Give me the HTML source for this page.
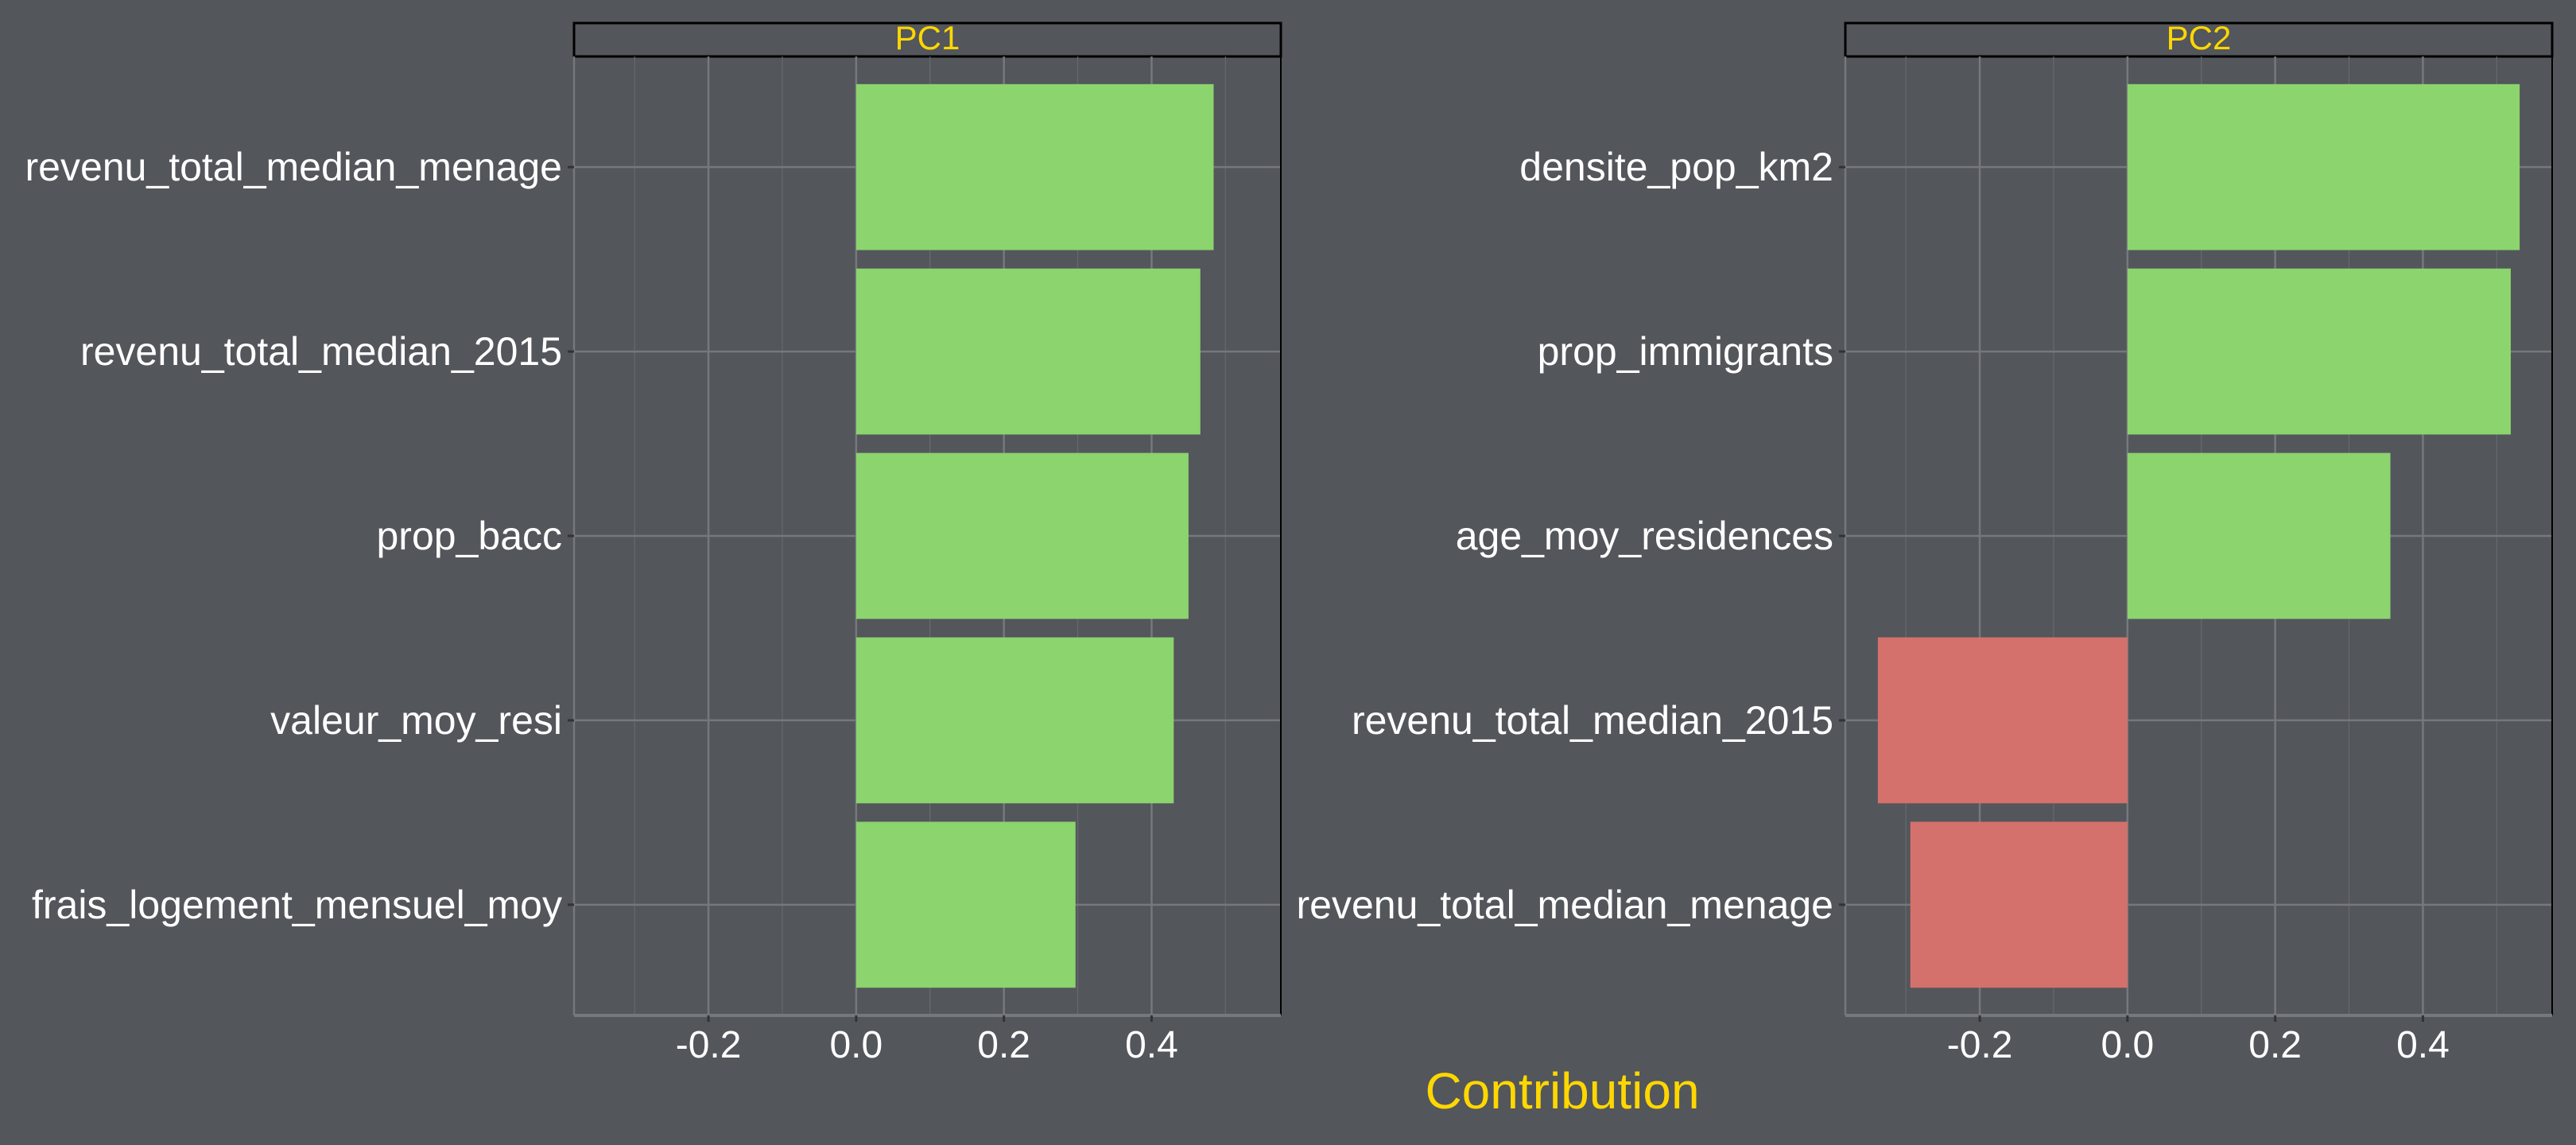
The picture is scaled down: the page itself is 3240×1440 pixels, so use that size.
<!DOCTYPE html>
<html><head><meta charset="utf-8"><style>
html,body{margin:0;padding:0;background:#53565b;}
svg{display:block;font-family:"Liberation Sans",Arial,sans-serif;}
</style></head><body>
<svg id="chart" width="3240" height="1440" viewBox="0 0 3240 1440" xmlns="http://www.w3.org/2000/svg">
<rect x="0" y="0" width="3240" height="1440" fill="#53565b"/>
<g id="root"></g>
<text x="1965" y="1394" font-size="64" fill="#FFD700" text-anchor="middle">Contribution</text>
</svg>
<script>
const pc1Categories = ["revenu_total_median_menage","revenu_total_median_2015","prop_bacc","valeur_moy_resi","frais_logement_mensuel_moy"];
const pc1Values = [0.484, 0.466, 0.450, 0.430, 0.297];
const pc2Categories = ["densite_pop_km2","prop_immigrants","age_moy_residences","revenu_total_median_2015","revenu_total_median_menage"];
const pc2Values = [0.531, 0.519, 0.356, -0.338, -0.294];
const majorTicks = [-0.2, 0.0, 0.2, 0.4];
const tickLabels = ["-0.2","0.0","0.2","0.4"];
const minorTicks = [-0.3, -0.1, 0.1, 0.3, 0.5];
const xDomain = [-0.382, 0.575];

const NS = "http://www.w3.org/2000/svg";
const root = document.getElementById("root");
function mk(tag, attrs, parent){
  const e = document.createElementNS(NS, tag);
  for (const k in attrs) e.setAttribute(k, attrs[k]);
  parent.appendChild(e);
  return e;
}
const plotTop = 71, plotBottom = 1277, stripTopY = 29;
function panel(name, left, right, cats, vals){
  const g = mk("g", {}, root);
  
  
  const xs = v => left + (v - xDomain[0]) / (xDomain[1] - xDomain[0]) * (right - left);
  const step = (plotBottom - plotTop) / (cats.length + 0.2);
  const ys = i => plotTop + step * (0.6 + i);
  const strip = mk("rect", {x:left, y:stripTopY, width:right-left, height:plotTop-stripTopY, fill:"#53565b", stroke:"#000", "stroke-width":3}, g);
  
  
  const st = mk("text", {x:(left+right)/2, y:plotTop-9, "font-size":42, fill:"#FFD700", "text-anchor":"middle"}, g);
  st.textContent = name.toUpperCase();
  
  
  minorTicks.forEach(t => {
    const l = mk("line", {x1:xs(t), x2:xs(t), y1:plotTop, y2:plotBottom, stroke:"#666a6e", "stroke-width":1.2}, g);
    
    
  });
  majorTicks.forEach(t => {
    const l = mk("line", {x1:xs(t), x2:xs(t), y1:plotTop, y2:plotBottom, stroke:"#75787c", "stroke-width":2.5}, g);
    
    
  });
  cats.forEach((c,i) => {
    const l = mk("line", {x1:left, x2:right, y1:ys(i), y2:ys(i), stroke:"#75787c", "stroke-width":2.5}, g);
    
    
  });
  const bw = step * 0.9;
  vals.forEach((v,i) => {
    const x0 = xs(Math.min(0,v)), x1 = xs(Math.max(0,v));
    const b = mk("rect", {x:x0, y:ys(i)-bw/2, width:x1-x0, height:bw, fill: v >= 0 ? "#8BD46E" : "#D4716C"}, g);
    
    
  });
  const la = mk("line", {x1:left, x2:left, y1:plotTop, y2:plotBottom, stroke:"#75787c", "stroke-width":2.5}, g);
  
  
  const ra = mk("line", {x1:right, x2:right, y1:plotTop, y2:plotBottom, stroke:"#000", "stroke-width":2}, g);
  
  
  const ba = mk("line", {x1:left, x2:right, y1:plotBottom, y2:plotBottom, stroke:"#75787c", "stroke-width":4}, g);
  
  
  majorTicks.forEach((t,k) => {
    const tk = mk("line", {x1:xs(t), x2:xs(t), y1:plotBottom, y2:plotBottom+8, stroke:"#333", "stroke-width":3}, g);
    
    
    const tl = mk("text", {x:xs(t), y:plotBottom+53, "font-size":48, fill:"#fff", "text-anchor":"middle"}, g);
    tl.textContent = tickLabels[k];
    
    
  });
  cats.forEach((c,i) => {
    const tk = mk("line", {x1:left-8, x2:left, y1:ys(i), y2:ys(i), stroke:"#333", "stroke-width":3}, g);
    
    
    const tl = mk("text", {x:left-15, y:ys(i)+17, "font-size":50, fill:"#fff", "text-anchor":"end"}, g);
    tl.textContent = c;
    
    
  });
}
panel("pc1", 722, 1611, pc1Categories, pc1Values);
panel("pc2", 2321, 3210, pc2Categories, pc2Values);
</script>
</body></html>
